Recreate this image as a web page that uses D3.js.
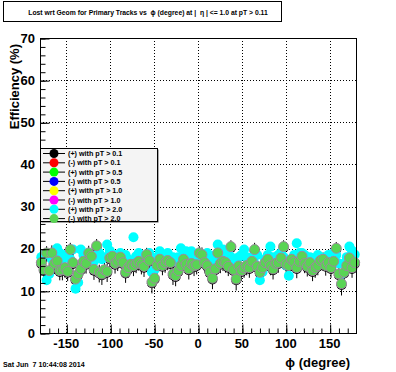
<!DOCTYPE html>
<html>
<head>
<meta charset="utf-8">
<script src="https://cdn.jsdelivr.net/npm/d3@7/dist/d3.min.js"></script>
<style>
  body { margin: 0; background: #fff; }
  svg { display: block; font-family: "Liberation Sans", Arial, sans-serif; font-weight: bold; }
  svg text { white-space: pre; }
</style>
</head>
<body>
<div id="chart"></div>
<script>
// --- data: efficiency (%) per 3 degree phi bin, bin centres in degree ---
const phiBins = [
  -178.5,-175.5,-172.5,-169.5,-166.5,-163.5,-160.5,-157.5,-154.5,-151.5,
  -148.5,-145.5,-142.5,-139.5,-136.5,-133.5,-130.5,-127.5,-124.5,-121.5,
  -118.5,-115.5,-112.5,-109.5,-106.5,-103.5,-100.5,-97.5,-94.5,-91.5,
  -88.5,-85.5,-82.5,-79.5,-76.5,-73.5,-70.5,-67.5,-64.5,-61.5,
  -58.5,-55.5,-52.5,-49.5,-46.5,-43.5,-40.5,-37.5,-34.5,-31.5,
  -28.5,-25.5,-22.5,-19.5,-16.5,-13.5,-10.5,-7.5,-4.5,-1.5,
  1.5,4.5,7.5,10.5,13.5,16.5,19.5,22.5,25.5,28.5,
  31.5,34.5,37.5,40.5,43.5,46.5,49.5,52.5,55.5,58.5,
  61.5,64.5,67.5,70.5,73.5,76.5,79.5,82.5,85.5,88.5,
  91.5,94.5,97.5,100.5,103.5,106.5,109.5,112.5,115.5,118.5,
  121.5,124.5,127.5,130.5,133.5,136.5,139.5,142.5,145.5,148.5,
  151.5,154.5,157.5,160.5,163.5,166.5,169.5,172.5,175.5,178.5];

// (+) pT > 0.1 : only its error bars show under the other markers
const effPos01 = [
  16.4,14.8,18.7,14.5,18.8,16.2,16.8,14.5,14.8,15.2,
  14.3,19.5,16.4,12.5,13.8,14.9,16.7,16.2,18.7,17.9,
  14.8,20.4,14.1,13.7,14.8,14.3,17.5,17.9,16.2,16.7,
  17.7,16.4,14.1,15.2,16.0,15.6,16.2,16.7,16.0,15.5,
  18.3,16.9,11.8,12.7,15.7,17.2,15.7,16.4,16.9,16.4,
  13.7,13.3,14.5,15.7,17.2,16.0,14.9,16.2,15.6,15.9,
  18.7,18.3,16.4,15.7,14.2,12.7,14.9,18.7,16.2,16.7,
  16.4,15.5,20.2,14.7,12.5,15.6,14.5,15.2,15.7,15.2,
  16.7,19.5,15.5,14.1,15.2,16.4,17.2,15.7,14.9,16.2,
  16.4,17.5,20.2,16.0,15.7,17.2,16.5,15.2,16.7,17.9,
  16.2,15.5,16.4,14.5,15.2,15.7,16.9,17.2,15.7,16.4,
  15.2,16.7,19.8,13.7,11.4,14.1,15.7,17.5,15.2,16.4];
const errPos01 = [
  2.0,2.2,1.9,2.1,2.0,2.2,1.9,2.0,2.3,2.1,
  2.0,1.9,2.1,2.4,2.2,2.0,1.9,2.1,2.0,1.9,
  2.2,1.9,2.1,2.3,2.0,2.2,1.9,2.0,2.1,2.0,
  1.9,2.0,2.2,2.1,2.0,2.1,2.0,1.9,2.1,2.2,
  1.9,2.0,2.4,2.2,2.1,1.9,2.0,2.1,2.0,2.1,
  2.3,2.2,2.1,2.0,1.9,2.0,2.2,2.0,2.1,2.0,
  1.9,2.0,2.1,2.0,2.2,2.3,2.1,1.9,2.0,2.0,
  2.1,2.0,1.8,2.1,2.4,2.0,2.2,2.1,2.0,2.1,
  2.0,1.9,2.1,2.2,2.1,2.0,1.9,2.0,2.2,2.0,
  2.1,1.9,1.8,2.0,2.1,1.9,2.0,2.2,2.0,1.9,
  2.0,2.1,2.0,2.2,2.1,2.0,1.9,1.9,2.1,2.0,
  2.1,2.0,1.8,2.2,2.5,2.2,2.0,1.9,2.1,2.0];

// series fully hidden beneath the pT > 2.0 markers in the picture
const effNeg01 = [];
const effPos05 = [];
const effNeg05 = [];
const effPos10 = [];
const effNeg10 = [];

const effPos20 = [
  18.0,18.5,12.5,14.0,17.5,18.0,20.1,19.0,17.5,18.5,
  18.0,17.5,19.8,10.5,12.0,19.8,18.5,17.5,19.0,18.0,
  17.0,18.5,19.0,17.5,18.0,21.0,19.5,18.2,18.5,17.5,
  19.0,18.0,18.5,17.5,17.0,22.7,18.2,19.0,18.0,17.5,
  18.3,19.0,14.4,15.0,18.0,19.4,18.5,18.0,19.0,17.5,
  18.0,17.0,18.0,20.1,18.5,19.4,18.5,19.4,18.0,17.5,
  17.0,18.5,18.0,19.0,16.0,17.5,18.5,21.0,18.5,19.8,
  18.5,19.0,18.0,17.0,16.7,18.0,18.5,19.8,18.0,17.5,
  18.0,16.5,18.5,12.5,14.5,17.5,18.5,20.5,18.0,17.5,
  18.5,19.0,18.0,16.0,13.6,17.5,18.5,21.3,19.0,19.0,
  18.5,17.5,18.0,16.0,17.0,18.5,18.0,17.5,17.0,18.5,
  17.5,19.0,18.5,16.5,14.0,16.5,18.0,20.5,19.5,18.6];
const effNeg20 = [
  16.7,15.0,19.0,14.8,19.0,16.5,17.1,14.8,15.0,15.5,
  14.6,19.8,16.7,12.8,14.0,15.2,17.0,16.5,19.0,18.2,
  15.1,20.7,14.4,14.0,15.0,14.6,17.8,18.2,16.5,17.0,
  18.0,16.7,14.4,15.5,16.3,15.9,16.5,17.0,16.3,15.8,
  18.6,17.2,12.1,13.0,16.0,17.5,16.0,16.7,17.2,16.7,
  14.0,13.6,14.8,16.0,17.5,16.3,15.2,16.5,15.9,16.2,
  19.0,18.6,16.7,16.0,14.5,13.0,15.2,19.0,16.5,17.0,
  16.7,15.8,20.5,15.0,12.8,15.9,14.8,15.5,16.0,15.5,
  17.0,19.8,15.8,14.4,15.5,16.7,17.5,16.0,15.2,16.5,
  16.7,17.8,20.5,16.3,16.0,17.5,16.8,15.5,17.0,18.2,
  16.5,15.8,16.7,14.8,15.5,16.0,17.2,17.5,16.0,16.7,
  15.5,17.0,20.1,14.0,11.7,14.4,16.0,17.8,15.5,16.7];

const seriesLabels = ["(+) with pT > 0.1","(-) with pT > 0.1","(+) with pT > 0.5","(-) with pT > 0.5","(+) with pT > 1.0","(-) with pT > 1.0","(+) with pT > 2.0","(-) with pT > 2.0"];
const seriesColors = ["#000000","#ff0000","#00ff00","#0000ff","#ffff00","#ff00ff","#00ffff","#59d454"];
const seriesValues = [effPos01, effNeg01, effPos05, effNeg05, effPos10, effNeg10, effPos20, effNeg20];
const seriesErrors = [errPos01, null, null, null, null, null, null, null];

const xTicks = [-150,-100,-50,0,50,100,150];
const yTicks = [0,10,20,30,40,50,60,70];

const titleText = "Lost wrt Geom for Primary Tracks vs  \u03d5 (degree) at |  \u03b7 | <= 1.0 at pT > 0.11";
const xTitle = "\u03d5 (degree)";
const yTitle = "Efficiency (%)";
const dateText = "Sat Jun  7 10:44:08 2014";

// --- layout ---
const W = 396, H = 372;
const frame = {left: 40, right: 356, top: 38, bottom: 333};

const svg = d3.select("#chart").append("svg").attr("width", W).attr("height", H);
svg.append("rect").attr("width", W).attr("height", H).attr("fill", "#fff");

const x = d3.scaleLinear().domain([-180, 180]).range([frame.left, frame.right]);
const y = d3.scaleLinear().domain([0, 70]).range([frame.bottom, frame.top]);

// grid (dotted, major ticks only)
const grid = svg.append("g").attr("stroke", "#000").attr("stroke-width", 1).attr("stroke-dasharray", "1,2");
grid.selectAll(".gx").data(xTicks).join("line")
  .attr("x1", d => Math.round(x(d)) + 0.5).attr("x2", d => Math.round(x(d)) + 0.5)
  .attr("y1", frame.top).attr("y2", frame.bottom);
grid.selectAll(".gy").data(yTicks.filter(d => d > 0 && d < 70)).join("line")
  .attr("y1", d => Math.round(y(d)) + 0.5).attr("y2", d => Math.round(y(d)) + 0.5)
  .attr("x1", frame.left).attr("x2", frame.right);

// points: series drawn in order, later ones on top
const pts = svg.append("g");
seriesValues.forEach((vals, s) => {
  const g = pts.append("g");
  const rows = vals.map((v, i) => ({phi: phiBins[i], v: v, e: seriesErrors[s] ? seriesErrors[s][i] : 0}));
  if (seriesErrors[s]) {
    g.selectAll("line").data(rows).join("line")
      .attr("x1", d => x(d.phi)).attr("x2", d => x(d.phi))
      .attr("y1", d => y(d.v - d.e)).attr("y2", d => y(d.v + d.e))
      .attr("stroke", seriesColors[s]).attr("stroke-width", 1);
  }
  g.selectAll("circle").data(rows).join("circle")
    .attr("cx", d => x(d.phi)).attr("cy", d => y(d.v)).attr("r", 5)
    .attr("fill", seriesColors[s])
    .attr("stroke", s === 7 ? "#9c8a9e" : "none").attr("stroke-width", 1);
});

// frame
svg.append("rect")
  .attr("x", frame.left + 0.5).attr("y", frame.top + 0.5)
  .attr("width", frame.right - frame.left).attr("height", frame.bottom - frame.top)
  .attr("fill", "none").attr("stroke", "#000").attr("stroke-width", 1);

// axes: ticks point inward
const yAxis = d3.axisRight(y).tickValues(yTicks).tickSize(9).tickFormat("");
const yMinor = d3.axisRight(y).tickValues(d3.range(0, 71, 2)).tickSize(5).tickFormat("");
const xAxis = d3.axisTop(x).tickValues(xTicks).tickSize(9).tickFormat("");
const xMinor = d3.axisTop(x).tickValues(d3.range(-170, 180, 10)).tickSize(5).tickFormat("");
[[yAxis, `translate(${frame.left + 0.5},0.5)`], [yMinor, `translate(${frame.left + 0.5},0.5)`],
 [xAxis, `translate(0.5,${frame.bottom + 0.5})`], [xMinor, `translate(0.5,${frame.bottom + 0.5})`]]
  .forEach(([ax, tr]) => {
    const g = svg.append("g").attr("transform", tr).call(ax);
    g.select(".domain").remove();
    g.selectAll("line").attr("stroke", "#000");
  });

// tick labels
svg.append("g").selectAll("text").data(yTicks).join("text")
  .attr("x", 35).attr("y", d => y(d)).attr("dy", "0.36em")
  .attr("text-anchor", "end").attr("font-size", 13).text(d => d);
svg.append("g").selectAll("text").data(xTicks).join("text")
  .attr("x", d => x(d)).attr("y", 348)
  .attr("text-anchor", "middle").attr("font-size", 13).text(d => d);

// axis titles
svg.append("text").attr("x", 350).attr("y", 367).attr("text-anchor", "end")
  .attr("font-size", 13).text(xTitle);
svg.append("text").attr("transform", "translate(19,44) rotate(-90)")
  .attr("text-anchor", "end").attr("font-size", 13).text(yTitle);

// title box
svg.append("rect").attr("x", 3.5).attr("y", 1.5).attr("width", 278).attr("height", 20)
  .attr("fill", "#fff").attr("stroke", "#000");
svg.append("text").attr("x", 148).attr("y", 14.5).attr("text-anchor", "middle")
  .attr("font-size", 6.8).text(titleText);

// date stamp
svg.append("text").attr("x", 3).attr("y", 367).attr("font-size", 7.1).text(dateText);

// legend
const leg = svg.append("g");
leg.append("rect").attr("x", 41.5).attr("y", 149.5).attr("width", 117).attr("height", 73).attr("fill", "#555");
leg.append("rect").attr("x", 40.5).attr("y", 148.5).attr("width", 117).attr("height", 73)
  .attr("fill", "#f4f4f4").attr("stroke", "#000");
const rowY = i => 153.5 + i * 9.3;
const entries = leg.selectAll(".entry").data(seriesLabels).join("g")
  .attr("transform", (d, i) => `translate(0,${rowY(i)})`);
entries.append("line").attr("x1", 43).attr("x2", 65).attr("y1", 0).attr("y2", 0)
  .attr("stroke", "#000").attr("stroke-width", 1);
entries.append("circle").attr("cx", 54).attr("cy", 0).attr("r", 4.5)
  .attr("fill", (d, i) => seriesColors[i]);
entries.append("text").attr("x", 68).attr("y", 0).attr("dy", "0.35em")
  .attr("font-size", 7.2).text(d => d);
</script>
</body>
</html>
